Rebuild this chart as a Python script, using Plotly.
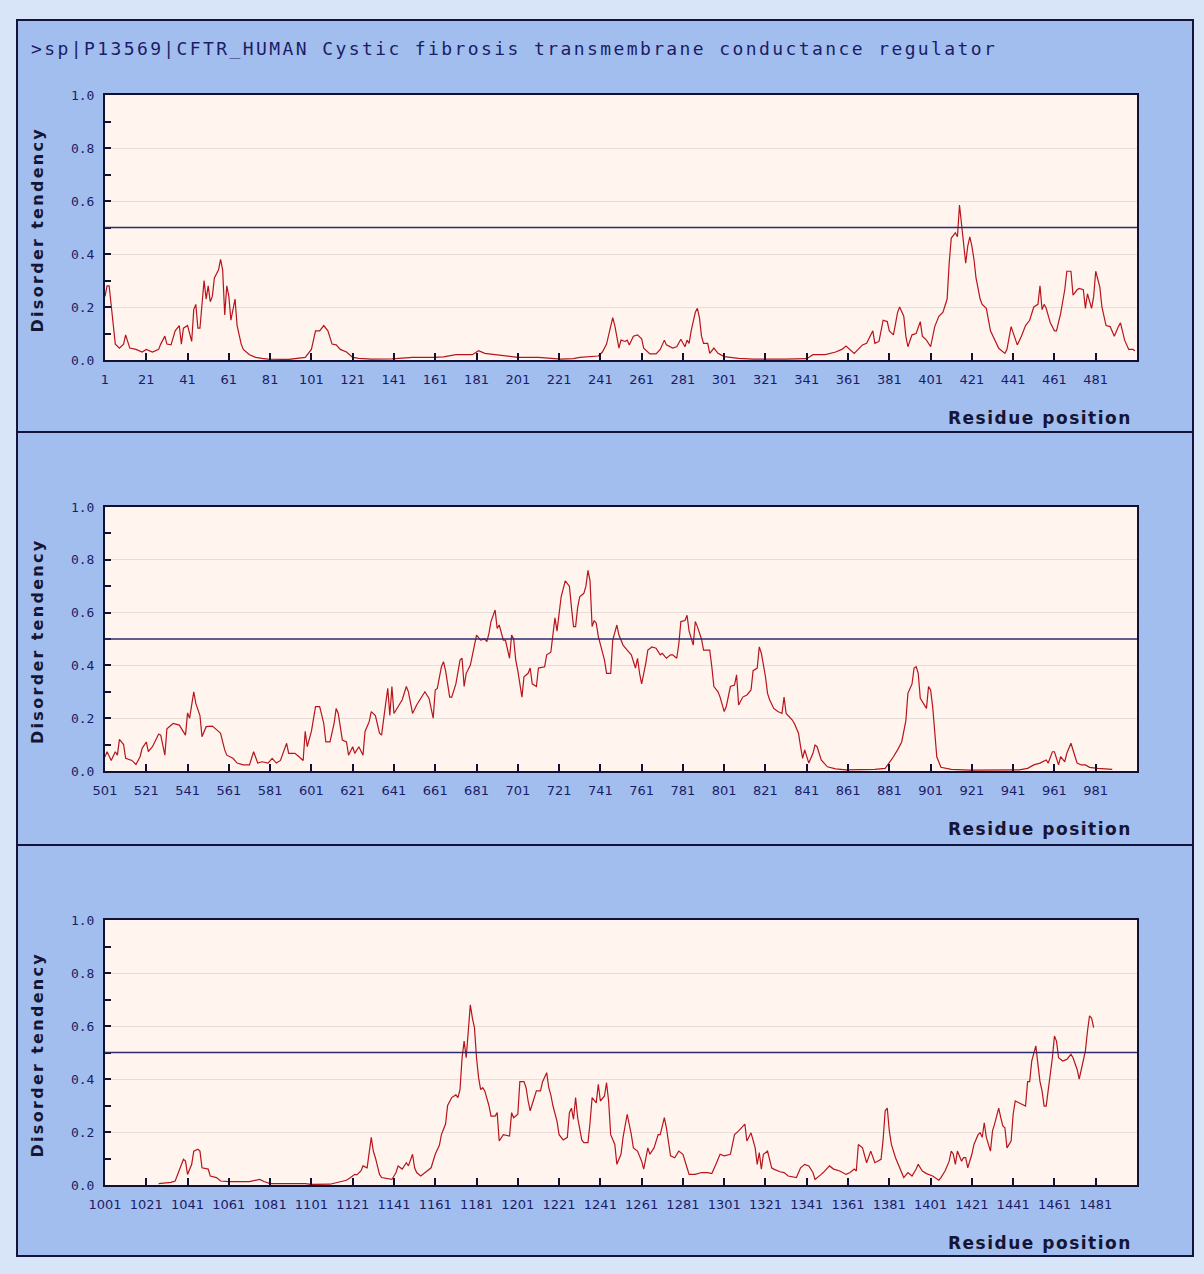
import plotly.graph_objects as go

# ---------------- data ----------------
title_text = ">sp|P13569|CFTR_HUMAN Cystic fibrosis transmembrane conductance regulator"
y_title = "Disorder tendency"
x_title = "Residue position"
threshold = 0.5

res1 = [1, 2, 3, 5, 6, 8, 10, 11, 13, 16, 19, 21, 24, 27, 28, 30, 31, 33, 35, 37, 38, 39, 41, 43, 44, 45, 46, 47,
        49, 50, 51, 52, 53, 54, 56, 57, 58, 59, 60, 61, 62, 64, 65, 67, 68, 71, 74, 77, 80, 90, 98, 101, 103, 105,
        107, 109, 111, 113, 115, 118, 121, 124, 130, 140, 145, 150, 160, 165, 171, 179, 182, 185, 190, 195, 201,
        211, 217, 222, 228, 231, 240, 242, 244, 245, 247, 248, 249, 250, 251, 253, 254, 255, 257, 259, 261, 262,
        265, 268, 270, 272, 273, 276, 278, 280, 282, 283, 284, 285, 287, 288, 289, 290, 291, 293, 294, 296, 298,
        301, 308, 315, 330, 341, 344, 350, 355, 358, 360, 362, 364, 368, 370, 373, 374, 376, 378, 380, 381, 383,
        385, 386, 388, 389, 390, 392, 394, 396, 397, 399, 401, 403, 405, 407, 409, 410, 411, 413, 414, 415, 416,
        417, 418, 419, 420, 421, 422, 423, 425, 426, 428, 430, 432, 434, 437, 438, 440, 442, 443, 445, 447, 449,
        451, 453, 454, 455, 456, 457, 459, 461, 462, 464, 466, 467, 469, 470, 472, 473, 475, 476, 477, 479, 480,
        481, 483, 484, 486, 488, 490, 492, 493, 495, 497, 499, 500]
val1 = [.24, .28, .28, .13, .06, .045, .06, .095, .045, .04, .03, .04, .03, .04, .06, .09, .06, .057, .11, .13, .06,
        .12, .13, .07, .19, .21, .12, .12, .30, .23, .28, .22, .24, .31, .34, .38, .34, .17, .28, .24, .15, .23, .13,
        .06, .04, .02, .01, .006, .003, .002, .01, .04, .11, .11, .13, .11, .06, .057, .04, .03, .01, .006, .003,
        .004, .008, .01, .01, .012, .02, .02, .035, .025, .02, .015, .01, .01, .006, .003, .005, .01, .015, .03,
        .06, .09, .16, .13, .09, .045, .075, .07, .075, .057, .09, .095, .08, .045, .023, .023, .04, .075, .057,
        .045, .05, .078, .05, .075, .063, .11, .18, .195, .16, .09, .063, .063, .025, .045, .025, .013, .006, .003,
        .003, .005, .02, .02, .03, .04, .053, .04, .025, .057, .063, .11, .063, .07, .15, .145, .11, .095, .18, .20,
        .165, .09, .05, .095, .10, .145, .09, .075, .05, .126, .165, .18, .23, .365, .46, .48, .465, .585, .515,
        .43, .365, .43, .465, .43, .38, .31, .23, .21, .195, .11, .075, .044, .025, .04, .126, .075, .057, .09, .13,
        .15, .20, .21, .28, .19, .21, .195, .14, .11, .11, .175, .265, .335, .335, .245, .265, .27, .265, .195, .25,
        .195, .24, .335, .275, .20, .13, .126, .09, .126, .14, .075, .04, .04, .035]

res2 = [501, 502, 504, 506, 507, 508, 510, 511, 514, 516, 518, 519, 521, 522, 524, 527, 528, 530, 531, 534, 537,
        540, 541, 542, 544, 545, 547, 548, 550, 553, 556, 557, 559, 560, 563, 565, 568, 571, 573, 575, 577, 580,
        582, 584, 586, 589, 590, 593, 595, 597, 598, 599, 601, 603, 605, 607, 608, 610, 612, 613, 614, 616, 618,
        619, 621, 622, 624, 626, 627, 629, 630, 632, 634, 635, 637, 638, 639, 640, 641, 643, 645, 647, 648, 650,
        652, 655, 656, 658, 660, 661, 662, 664, 665, 666, 668, 669, 671, 673, 674, 675, 676, 678, 680, 681, 683,
        685, 686, 687, 688, 690, 691, 692, 694, 695, 697, 698, 699, 700, 701, 703, 704, 706, 707, 708, 710, 711,
        714, 715, 717, 718, 719, 720, 721, 722, 724, 726, 727, 728, 729, 730, 731, 733, 734, 735, 736, 737, 738,
        739, 740, 742, 743, 744, 746, 747, 749, 750, 752, 754, 756, 758, 759, 760, 761, 763, 764, 766, 768, 770,
        771, 773, 775, 776, 778, 779, 780, 782, 783, 784, 786, 787, 788, 790, 791, 792, 794, 795, 796, 798, 799,
        801, 802, 804, 806, 807, 808, 810, 812, 814, 815, 817, 818, 819, 821, 822, 823, 825, 827, 829, 830, 831,
        834, 835, 837, 838, 839, 840, 842, 844, 845, 846, 848, 851, 855, 860, 870, 874, 879, 881, 883, 885, 887,
        889, 890, 892, 893, 894, 895, 896, 897, 899, 900, 901, 902, 903, 904, 906, 911, 920, 944, 948, 951, 954,
        957, 958, 960, 961, 963, 964, 966, 967, 969, 971, 972, 974, 976, 978, 982, 989]
val2 = [.054, .073, .04, .073, .06, .12, .10, .048, .04, .025, .054, .086, .11, .073, .092, .14, .136, .06, .16, .18,
        .174, .136, .22, .20, .30, .256, .21, .13, .168, .17, .15, .143, .08, .06, .048, .03, .023, .023, .073, .03,
        .035, .03, .048, .03, .04, .105, .067, .067, .054, .04, .15, .092, .15, .244, .244, .18, .11, .11, .18, .237,
        .218, .117, .11, .06, .092, .067, .092, .06, .15, .187, .225, .21, .143, .136, .256, .313, .21, .32, .218,
        .244, .27, .32, .30, .218, .25, .288, .30, .275, .20, .307, .313, .395, .414, .38, .28, .28, .33, .42, .427,
        .32, .37, .40, .47, .515, .496, .50, .49, .52, .566, .61, .54, .553, .496, .496, .427, .515, .50, .42, .38,
        .28, .357, .37, .39, .33, .32, .39, .395, .44, .45, .51, .58, .53, .585, .66, .72, .70, .62, .547, .547, .62,
        .66, .673, .70, .76, .72, .547, .57, .56, .51, .446, .42, .37, .37, .496, .553, .515, .477, .458, .44, .39,
        .427, .37, .33, .408, .458, .47, .465, .44, .446, .427, .44, .44, .427, .48, .566, .57, .59, .53, .477, .566,
        .547, .50, .458, .458, .458, .395, .32, .30, .28, .225, .244, .32, .326, .364, .25, .28, .288, .307, .38, .39,
        .47, .446, .357, .294, .27, .237, .225, .218, .28, .218, .193, .18, .143, .092, .048, .08, .03, .067, .098,
        .092, .042, .016, .008, .004, .004, .006, .01, .03, .054, .08, .11, .19, .294, .33, .39, .395, .37, .275,
        .263, .237, .32, .307, .244, .136, .054, .014, .006, .003, .004, .01, .023, .03, .042, .03, .073, .073, .023,
        .054, .035, .067, .105, .054, .03, .023, .023, .014, .01, .006]

res3 = [1027, 1033, 1035, 1037, 1039, 1040, 1041, 1043, 1044, 1046, 1047, 1048, 1051, 1052, 1055, 1057, 1061, 1071,
        1076, 1078, 1081, 1098, 1101, 1110, 1115, 1118, 1120, 1122, 1123, 1125, 1126, 1128, 1130, 1131, 1132, 1134,
        1135, 1138, 1140, 1142, 1143, 1145, 1147, 1148, 1150, 1151, 1152, 1154, 1156, 1159, 1161, 1163, 1164, 1166,
        1167, 1169, 1171, 1172, 1173, 1174, 1175, 1176, 1177, 1178, 1179, 1180, 1181, 1182, 1183, 1184, 1185, 1187,
        1188, 1190, 1191, 1192, 1194, 1197, 1198, 1199, 1201, 1202, 1204, 1205, 1206, 1207, 1209, 1210, 1212, 1213,
        1215, 1216, 1217, 1218, 1220, 1221, 1223, 1225, 1226, 1227, 1228, 1229, 1230, 1232, 1233, 1235, 1236, 1237,
        1239, 1240, 1241, 1243, 1244, 1245, 1246, 1248, 1249, 1251, 1252, 1254, 1256, 1257, 1259, 1261, 1262, 1264,
        1265, 1267, 1269, 1270, 1272, 1273, 1275, 1277, 1279, 1281, 1283, 1284, 1287, 1288, 1290, 1293, 1295, 1297,
        1299, 1301, 1304, 1306, 1308, 1311, 1312, 1314, 1316, 1317, 1318, 1319, 1320, 1322, 1324, 1325, 1328, 1330,
        1332, 1336, 1338, 1340, 1342, 1344, 1345, 1348, 1349, 1352, 1354, 1357, 1360, 1362, 1364, 1365, 1366, 1368,
        1369, 1370, 1372, 1373, 1374, 1377, 1378, 1379, 1380, 1381, 1382, 1384, 1385, 1387, 1388, 1390, 1392, 1394,
        1395, 1397, 1399, 1402, 1403, 1405, 1406, 1408, 1410, 1411, 1412, 1413, 1414, 1416, 1417, 1418, 1419, 1421,
        1422, 1424, 1425, 1426, 1427, 1428, 1430, 1431, 1432, 1434, 1435, 1436, 1437, 1438, 1440, 1441, 1442, 1444,
        1447, 1448, 1449, 1450, 1452, 1453, 1454, 1455, 1456, 1457, 1458, 1459, 1460, 1461, 1462, 1463, 1465, 1467,
        1469, 1470, 1472, 1473, 1475, 1476, 1477, 1478, 1479, 1480]
val3 = [.005, .01, .015, .053, .097, .09, .04, .078, .128, .135, .128, .065, .06, .034, .028, .015, .013, .013, .021,
        .013, .005, .005, .002, .003, .013, .018, .028, .04, .038, .053, .072, .065, .18, .128, .103, .04, .028, .025,
        .021, .047, .072, .06, .084, .072, .116, .065, .047, .034, .047, .065, .116, .15, .19, .23, .30, .33, .34, .33,
        .36, .48, .543, .48, .58, .68, .63, .594, .48, .405, .36, .367, .355, .30, .26, .26, .273, .166, .19, .185,
        .273, .254, .267, .39, .39, .367, .317, .28, .33, .355, .355, .39, .424, .367, .34, .30, .24, .19, .17, .18,
        .273, .29, .248, .33, .254, .17, .16, .16, .235, .33, .31, .38, .317, .336, .386, .317, .19, .153, .078, .116,
        .18, .267, .19, .14, .128, .09, .06, .14, .116, .14, .19, .19, .254, .216, .11, .103, .128, .116, .065, .04,
        .04, .043, .047, .047, .043, .078, .116, .11, .116, .19, .204, .23, .166, .197, .14, .078, .122, .06, .116,
        .128, .065, .06, .05, .047, .034, .028, .065, .078, .072, .047, .021, .04, .047, .072, .06, .053, .04, .047,
        .06, .053, .153, .14, .11, .084, .128, .103, .084, .097, .172, .28, .29, .204, .153, .103, .084, .047, .028,
        .047, .034, .06, .078, .053, .043, .034, .028, .018, .028, .053, .09, .128, .116, .078, .128, .09, .103, .103,
        .065, .116, .153, .19, .197, .18, .235, .18, .128, .204, .23, .29, .254, .223, .216, .14, .166, .267, .317,
        .31, .298, .39, .39, .468, .525, .455, .39, .355, .298, .298, .355, .405, .48, .562, .543, .48, .468, .474,
        .493, .48, .436, .40, .474, .506, .58, .638, .63, .594]

panel_ranges = [(1, 501), (501, 1001), (1001, 1501)]
tickvals1 = [1, 21, 41, 61, 81, 101, 121, 141, 161, 181, 201, 221, 241, 261, 281, 301, 321, 341, 361, 381, 401,
             421, 441, 461, 481]
tickvals2 = [501, 521, 541, 561, 581, 601, 621, 641, 661, 681, 701, 721, 741, 761, 781, 801, 821, 841, 861, 881,
             901, 921, 941, 961, 981]
tickvals3 = [1001, 1021, 1041, 1061, 1081, 1101, 1121, 1141, 1161, 1181, 1201, 1221, 1241, 1261, 1281, 1301, 1321,
             1341, 1361, 1381, 1401, 1421, 1441, 1461, 1481]
panel_ticks = [tickvals1, tickvals2, tickvals3]
series = [(res1, val1), (res2, val2), (res3, val3)]

# ---------------- layout geometry (pixels) ----------------
W, H = 1204, 1274
PX_L, PX_R = 105, 1137
plot_tops = [95, 507, 920]
plot_bots = [360, 771, 1185]
box_edges = [20, 432, 845, 1256]

def px(x):
    return x / W

def py(y):
    return 1 - y / H

OUTER_BG = "#d8e5f9"
PANEL_BG = "#a2beee"
PLOT_BG = "#fff5ee"
GRID = "#e6ddd8"
NAVY = "#1c1c66"
LINE_RED = "#b8141c"

fig = go.Figure()

shapes = []
annotations = []

for i in range(3):
    shapes.append(dict(type="rect", xref="paper", yref="paper", layer="below",
                       x0=px(17), x1=px(1193), y0=py(box_edges[i + 1]), y1=py(box_edges[i]),
                       fillcolor=PANEL_BG, line=dict(color="#14143a", width=2)))
for i in range(3):
    shapes.append(dict(type="rect", xref="paper", yref="paper", layer="below",
                       x0=px(PX_L), x1=px(PX_R), y0=py(plot_bots[i]), y1=py(plot_tops[i]),
                       fillcolor=PLOT_BG, line=dict(width=0)))

for i, (rx, vy) in enumerate(series):
    n = "" if i == 0 else str(i + 1)
    fig.add_trace(go.Scatter(x=rx, y=vy, mode="lines", xaxis="x" + n, yaxis="y" + n,
                             line=dict(color=LINE_RED, width=1.2), showlegend=False,
                             hoverinfo="x+y"))
    lo, hi = panel_ranges[i]
    fig.layout["xaxis" + n] = dict(
        domain=[px(PX_L), px(PX_R)], range=[lo, hi], anchor="y" + n,
        tickmode="array", tickvals=panel_ticks[i],
        ticks="inside", ticklen=7, tickwidth=2, tickcolor="#111133",
        showline=True, linecolor="#111133", linewidth=2, mirror=True, showgrid=False, zeroline=False,
        tickfont=dict(family="DejaVu Sans", size=13, color=NAVY), ticklabelstandoff=6,
        automargin=False, fixedrange=True)
    fig.layout["yaxis" + n] = dict(
        domain=[py(plot_bots[i]), py(plot_tops[i])], range=[0, 1], anchor="x" + n,
        dtick=0.2, tick0=0, tickformat=".1f", ticks="inside", ticklen=6, tickwidth=1.5, tickcolor="#111133",
        minor=dict(dtick=0.1, ticks="inside", ticklen=6, tickwidth=1.5, tickcolor="#111133", showgrid=False),
        showline=True, linecolor="#111133", linewidth=2, mirror=True,
        showgrid=True, gridcolor=GRID, gridwidth=1, zeroline=False,
        tickfont=dict(family="DejaVu Sans Mono", size=13, color=NAVY), ticklabelstandoff=6,
        automargin=False, fixedrange=True)
    shapes.append(dict(type="line", xref="x" + n + " domain", yref="y" + n,
                       x0=0, x1=1, y0=threshold, y1=threshold,
                       line=dict(color="#2b2b6e", width=1.5)))
    annotations.append(dict(xref="paper", yref="paper", x=px(37), y=py((plot_tops[i] + plot_bots[i]) / 2 + 2),
                            text='<span style="letter-spacing:2.3px">' + y_title + "</span>",
                            textangle=-90, showarrow=False, xanchor="center", yanchor="middle",
                            font=dict(family="DejaVu Sans", size=16, color="#151535", weight="bold")))
    annotations.append(dict(xref="paper", yref="paper", x=px(1134), y=py(plot_bots[i] + 58),
                            text='<span style="letter-spacing:1.5px">' + x_title + "</span>",
                            showarrow=False, xanchor="right", yanchor="middle",
                            font=dict(family="DejaVu Sans", size=17, color="#151535", weight="bold")))

annotations.append(dict(xref="paper", yref="paper", x=px(29), y=py(48),
                        text='<span style="letter-spacing:2.4px">' + title_text + "</span>",
                        showarrow=False, xanchor="left", yanchor="middle",
                        font=dict(family="DejaVu Sans Mono", size=18, color=NAVY)))

fig.update_layout(width=W, height=H, autosize=False,
                  margin=dict(l=0, r=0, t=0, b=0, pad=0, autoexpand=False),
                  paper_bgcolor=OUTER_BG, plot_bgcolor=PLOT_BG,
                  shapes=shapes, annotations=annotations, showlegend=False)

fig.write_html("out.html", config={"responsive": False, "displayModeBar": False},
               post_script="document.body.style.margin='0px';document.body.style.overflow='hidden';")
